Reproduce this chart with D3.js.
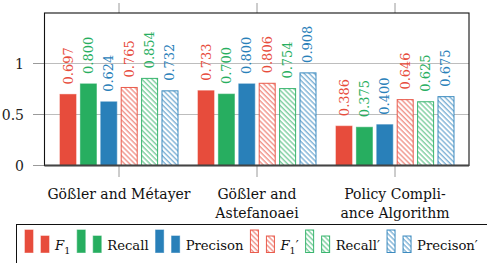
<!DOCTYPE html>
<html>
<head>
<meta charset="utf-8">
<title>Grouped bars</title>
<script src="https://d3js.org/d3.v7.min.js"></script>
<style>
  body { margin: 0; background: #fff; }
</style>
</head>
<body>
<svg width="487" height="263"></svg>
<script>
// data
const groups = ["Gößler and Métayer", "Gößler and Astefanoaei", "Policy Compliance Algorithm"]
const groupLines = [["Gößler and Métayer"], ["Gößler and", "Astefanoaei"], ["Policy Compli-", "ance Algorithm"]]
const seriesKeys = ["f1", "recall", "precision", "f1b", "recallb", "precisionb"]
const f1 = [0.697, 0.733, 0.386]
const recall = [0.800, 0.700, 0.375]
const precision = [0.624, 0.800, 0.400]
const f1b = [0.765, 0.806, 0.646]
const recallb = [0.854, 0.754, 0.625]
const precisionb = [0.732, 0.908, 0.675]
const yTicks = [0, 0.5, 1]

const values = { f1, recall, precision, f1b, recallb, precisionb }
const colors = { f1: "#e74c3c", recall: "#27ae60", precision: "#2980b9", f1b: "#e74c3c", recallb: "#27ae60", precisionb: "#2980b9" }
const hatched = k => k.endsWith("b")

const svg = d3.select("svg")
    .attr("font-family", "'DejaVu Serif', serif")
const fs = 14

// hatch patterns
const defs = svg.append("defs")
seriesKeys.filter(hatched).forEach(k => {
    const p = defs.append("pattern")
        .attr("id", "hatch-" + k)
        .attr("patternUnits", "userSpaceOnUse")
        .attr("width", 3.6).attr("height", 10)
        .attr("patternTransform", "rotate(-45)")
    p.append("rect").attr("width", 3.6).attr("height", 10).attr("fill", "#fff")
    p.append("line").attr("x1", 1).attr("x2", 1).attr("y1", 0).attr("y2", 10)
        .attr("stroke", colors[k]).attr("stroke-width", 0.9)
})

const plotLeft = 44.5, plotRight = 469, plotTop = 13, plotBottom = 165.5

const x0 = d3.scaleBand().domain(groups).range([50, 464])
const x1 = d3.scaleBand().domain(seriesKeys).range([-59, 59]).paddingInner(0.215).paddingOuter(0)
const y = d3.scaleLinear().domain([0, 1.5]).range([plotBottom, plotBottom - 1.5 * 102])

// grid lines
svg.append("g").selectAll("line")
    .data(yTicks.filter(d => d > 0))
    .enter().append("line")
    .attr("x1", plotLeft).attr("x2", plotRight)
    .attr("y1", d => y(d)).attr("y2", d => y(d))
    .attr("stroke", "#bdbdbd").attr("stroke-width", 1)

// y ticks
const yg = svg.append("g")
yg.selectAll("line").data(yTicks).enter().append("line")
    .attr("x1", 33).attr("x2", plotLeft)
    .attr("y1", d => y(d)).attr("y2", d => y(d))
    .attr("stroke", "#9a9a9a")
yg.selectAll("text").data(yTicks).enter().append("text")
    .attr("x", 24).attr("y", d => y(d))
    .attr("text-anchor", "end").attr("dominant-baseline", "central")
    .attr("font-size", fs).attr("fill", "#222")
    .text(d => d3.format("")(d))

// x ticks (above and below the frame)
const xg = svg.append("g")
groups.forEach(gname => {
    const cx = x0(gname) + x0.bandwidth() / 2
    xg.append("line").attr("x1", cx).attr("x2", cx).attr("y1", 3).attr("y2", plotTop).attr("stroke", "#9a9a9a")
    xg.append("line").attr("x1", cx).attr("x2", cx).attr("y1", plotBottom).attr("y2", 177).attr("stroke", "#9a9a9a")
})

// bars
const rows = []
groups.forEach((gname, i) => {
    seriesKeys.forEach(k => rows.push({ group: gname, key: k, value: values[k][i] }))
})

const barX = d => x0(d.group) + x0.bandwidth() / 2 + x1(d.key)

svg.append("g").selectAll("rect")
    .data(rows).enter().append("rect")
    .attr("x", barX)
    .attr("y", d => y(d.value))
    .attr("width", x1.bandwidth())
    .attr("height", d => plotBottom - y(d.value))
    .attr("fill", d => hatched(d.key) ? "url(#hatch-" + d.key + ")" : colors[d.key])
    .attr("stroke", d => colors[d.key])
    .attr("stroke-opacity", d => hatched(d.key) ? 0.9 : 0.6)
    .attr("stroke-width", 1)

// value labels
svg.append("g").selectAll("text")
    .data(rows).enter().append("text")
    .attr("transform", d => `translate(${barX(d) + x1.bandwidth() / 2},${y(d.value) - 10}) rotate(-90)`)
    .attr("dominant-baseline", "central")
    .attr("font-size", 13)
    .attr("fill", d => colors[d.key])
    .text(d => d3.format(".3f")(d.value))

// frame
svg.append("rect")
    .attr("x", plotLeft).attr("y", plotTop)
    .attr("width", plotRight - plotLeft).attr("height", plotBottom - plotTop)
    .attr("fill", "none").attr("stroke", "#111").attr("stroke-width", 1.1)
svg.append("line").attr("x1", plotLeft).attr("x2", plotRight).attr("y1", plotBottom).attr("y2", plotBottom)
    .attr("stroke", "#444").attr("stroke-width", 1.8)

// category labels
groups.forEach((gname, i) => {
    const cx = x0(gname) + x0.bandwidth() / 2
    const t = svg.append("text")
        .attr("text-anchor", "middle")
        .attr("font-size", fs).attr("fill", "#111")
    groupLines[i].forEach((line, j) => {
        t.append("tspan").attr("x", cx).attr("y", 198.5 + j * 19.3).text(line)
    })
})

// legend
svg.append("rect")
    .attr("x", 16.5).attr("y", 224.5)
    .attr("width", 500).attr("height", 60)
    .attr("fill", "#fff").attr("stroke", "#111").attr("stroke-width", 1)

const legendLabels = {
    f1: ["F", "1", ""], recall: ["Recall"], precision: ["Precison"],
    f1b: ["F", "1", "′"], recallb: ["Recall′"], precisionb: ["Precison′"]
}
const lfs = 13.2
let lx = 25
seriesKeys.forEach(k => {
    const fill = hatched(k) ? "url(#hatch-" + k + ")" : colors[k]
    svg.append("rect").attr("x", lx).attr("y", 230).attr("width", 8).attr("height", 22.5)
        .attr("fill", fill).attr("stroke", colors[k]).attr("stroke-opacity", hatched(k) ? 0.9 : 0.6)
    svg.append("rect").attr("x", lx + 16).attr("y", 236).attr("width", 8).attr("height", 16.5)
        .attr("fill", fill).attr("stroke", colors[k]).attr("stroke-opacity", hatched(k) ? 0.9 : 0.6)
    const t = svg.append("text").attr("x", lx + 30).attr("y", 250)
        .attr("font-size", lfs).attr("fill", "#111")
    const lab = legendLabels[k]
    if (lab.length > 1) {
        t.append("tspan").attr("font-style", "italic").text(lab[0])
        t.append("tspan").attr("font-size", lfs * 0.72).attr("dy", 4).text(lab[1])
        t.append("tspan").attr("dy", -4).text(lab[2])
    } else {
        t.text(lab[0])
    }
    lx = lx + 30 + t.node().getComputedTextLength() + 7
})
</script>
</body>
</html>
